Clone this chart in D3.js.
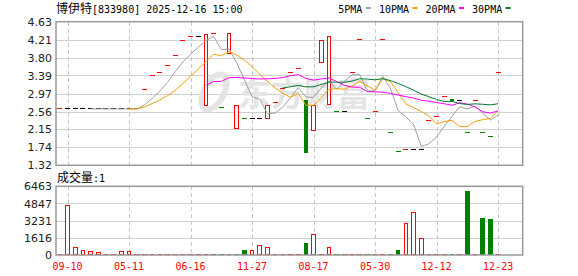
<!DOCTYPE html>
<html lang="zh">
<head>
<meta charset="UTF-8">
<title>博伊特 833980 日K</title>
<script src="https://cdn.jsdelivr.net/npm/d3@7/dist/d3.min.js"></script>
<style>
body{
	margin:0;
	background:#fff;
}
svg{
	display:block;
}
.frame{
	fill:none;
	stroke:#999;
	stroke-width:1.5px;
}
.hgrid line{
	stroke:#d0d0d0;
	stroke-width:1px;
	shape-rendering:crispEdges;
}
.vgrid line{
	stroke:#c8c8c8;
	stroke-width:1px;
	stroke-dasharray:4,3;
	shape-rendering:crispEdges;
}
.candle, .vol{
	shape-rendering:crispEdges;
}
.ma{
	fill:none;
	stroke-width:1px;
}
</style>
</head>
<body>
<script>
// 日K数据，一个下标一根K线
var opens  = [2.62,2.62,2.62,2.62,2.62,2.62,2.62,2.62,2.62,2.62,
              2.62,3.07,3.38,3.46,3.61,3.86,4.19,4.28,4.28,2.70,
              4.36,2.66,3.89,2.17,2.39,2.39,2.39,2.39,2.76,3.09,
              3.46,3.56,2.83,2.13,3.69,2.71,2.55,2.55,3.46,4.22,
              2.39,2.56,4.22,2.08,1.64,1.69,1.69,1.69,2.36,2.45,
              2.91,2.84,2.82,2.08,2.82,2.08,1.99,3.46];
var closes = [2.62,2.62,2.62,2.62,2.62,2.62,2.62,2.62,2.62,2.62,
              2.62,3.07,3.38,3.46,3.61,3.86,4.19,4.28,4.28,4.34,
              4.36,2.66,4.36,2.69,2.39,2.39,2.39,2.69,2.76,3.09,
              3.46,3.56,1.61,2.69,4.19,4.28,2.55,2.55,3.46,4.22,
              2.39,2.56,4.22,2.08,1.64,1.69,1.69,1.69,2.36,2.45,
              2.91,2.82,2.82,2.08,2.82,2.08,1.99,3.46];
var volumes = [15,4700,720,440,350,250,180,180,350,350,
               10,10,10,10,10,10,10,10,10,180,
               10,180,10,10,470,440,940,720,10,10,
               10,10,1130,1950,10,720,10,10,10,10,
               10,10,10,10,470,2980,4020,1570,10,10,
               10,10,10,6020,10,3480,3390,1];

var dateTicks  = [1,9,17,25,33,41,49,57];
var dateLabels = ["09-10","05-11","06-16","11-27","08-17","05-30","12-12","12-23"];
var priceTicks = [1.32,1.74,2.15,2.56,2.97,3.39,3.80,4.21,4.63];
var volTicks   = [0,1616,3231,4847,6463];

var maDays   = [5,10,20,30];
var maNames  = ["5PMA","10PMA","20PMA","30PMA"];
var maColors = ["#a0a0a0","#f5a000","#ff00ff","#007a30"];

var W=578, H=276;
var left=56, right=522.7;
var mainTop=21.7, mainBot=165.3, volTop=186.3, volBot=255;
var slots=61;
var red="#ff0000", green="#008000";

var svg=d3.select("body").append("svg").attr("width",W).attr("height",H);

var x=d3.scaleBand().domain(d3.range(slots)).range([left, left+slots*7.689]).padding(0);
var bw=x.bandwidth();
function cx(i){ return x(i)+bw/2; }

var y=d3.scaleLinear().domain([1.32,4.63]).range([mainBot,mainTop]);
var yv=d3.scaleLinear().domain([0,6463]).range([volBot,volTop]);

function dir(i){
	if(i==0) return 1;
	if(closes[i]>closes[i-1]) return 1;
	if(closes[i]<closes[i-1]) return -1;
	return 0;
}

// 网格
function grid(top,bot,ys){
	svg.append("g").attr("class","hgrid").selectAll("line").data(ys).enter().append("line")
		.attr("x1",left).attr("x2",right)
		.attr("y1",function(d){ return Math.round(d)+0.5; }).attr("y2",function(d){ return Math.round(d)+0.5; });
	svg.append("g").attr("class","vgrid").selectAll("line").data(dateTicks).enter().append("line")
		.attr("x1",function(d){ return Math.round(cx(d))+0.5; }).attr("x2",function(d){ return Math.round(cx(d))+0.5; })
		.attr("y1",top).attr("y2",bot);
}
grid(mainTop,mainBot,priceTicks.slice(1,-1).map(y));
grid(volTop,volBot,volTicks.slice(1,-1).map(yv));

// 水印
var wm=svg.append("g").attr("fill","none");
wm.append("ellipse").attr("cx",214).attr("cy",92).attr("rx",10).attr("ry",19)
	.attr("transform","rotate(28,214,92)").attr("stroke","#e4e4e4").attr("stroke-width",6);
wm.append("text").attr("x",238).attr("y",106).text("东方财富")
	.attr("fill","#e4e4e4").attr("font-family","Noto Sans CJK SC").attr("font-weight","bold").attr("font-size",33);

// K线
var cg=svg.append("g").attr("class","candle");
d3.range(closes.length).forEach(function(i){
	var o=opens[i], c=closes[i], xc=cx(i);
	if(o==c){
		var col=dir(i)>0?red:(dir(i)<0?green:"#000");
		cg.append("rect").attr("x",xc-2.5).attr("width",5)
			.attr("y",y(c)-0.5).attr("height",1).attr("fill",col);
	}else if(c>o){
		cg.append("rect").attr("x",xc-1.8).attr("width",3.6)
			.attr("y",y(c)).attr("height",y(o)-y(c))
			.attr("fill","#fff").attr("stroke",red).attr("stroke-width",1);
	}else{
		cg.append("rect").attr("x",xc-2.3).attr("width",4.6)
			.attr("y",y(o)).attr("height",Math.max(1.5,y(c)-y(o))).attr("fill",green);
	}
});

// 均线
maDays.forEach(function(n,k){
	var pts=[];
	for(var i=n-1;i<closes.length;i++){
		pts.push([cx(i), y(d3.mean(closes.slice(i-n+1,i+1)))]);
	}
	svg.append("path").attr("class","ma").attr("stroke",maColors[k]).attr("d",d3.line()(pts));
});

// 成交量
var vg=svg.append("g").attr("class","vol");
d3.range(volumes.length).forEach(function(i){
	var xc=cx(i), h=volBot-yv(volumes[i]);
	var up=dir(i)>=0;
	if(h<2){
		vg.append("rect").attr("x",xc-2.3).attr("width",4.6).attr("y",volBot-1.5).attr("height",1.5)
			.attr("fill",up?red:green);
	}else if(up){
		vg.append("rect").attr("x",xc-1.8).attr("width",3.6).attr("y",yv(volumes[i])).attr("height",h-0.5)
			.attr("fill","#fff").attr("stroke",red).attr("stroke-width",1);
	}else{
		vg.append("rect").attr("x",xc-2.3).attr("width",4.6).attr("y",yv(volumes[i])).attr("height",h)
			.attr("fill",green);
	}
});

// 边框
svg.append("rect").attr("class","frame").attr("x",left).attr("y",mainTop).attr("width",right-left).attr("height",mainBot-mainTop);
svg.append("rect").attr("class","frame").attr("x",left).attr("y",volTop).attr("width",right-left).attr("height",volBot-volTop);

// 坐标轴
function styleAxis(g,font,size,color){
	g.select(".domain").remove();
	g.selectAll("text").attr("font-family",font).attr("font-size",size).attr("fill",color);
}
svg.append("g").attr("transform","translate("+left+",0)")
	.call(d3.axisLeft(y).tickValues(priceTicks).tickSize(0).tickPadding(4).tickFormat(d3.format(".2f")))
	.call(styleAxis,"DejaVu Sans",11,"#222");
svg.append("g").attr("transform","translate("+left+",0)")
	.call(d3.axisLeft(yv).tickValues(volTicks).tickSize(0).tickPadding(4).tickFormat(d3.format("d")))
	.call(styleAxis,"DejaVu Sans",11,"#222");
svg.append("g").attr("transform","translate(0,"+volBot+")")
	.call(d3.axisBottom(x).tickValues(dateTicks).tickSize(0).tickPadding(7.5)
		.tickFormat(function(d){ return dateLabels[dateTicks.indexOf(d)]; }))
	.call(styleAxis,"DejaVu Sans Mono",10,red);

// 标题
var t=svg.append("text").attr("x",left).attr("y",13).attr("fill","#000");
t.append("tspan").attr("font-family","Noto Sans CJK SC").attr("font-size",12).text("博伊特");
t.append("tspan").attr("font-family","DejaVu Sans Mono").attr("font-size",10).text("[833980] 2025-12-16 15:00");

var vt=svg.append("text").attr("x",57).attr("y",182).attr("fill","#000");
vt.append("tspan").attr("font-family","Noto Sans CJK SC").attr("font-size",12).text("成交量");
vt.append("tspan").attr("font-family","DejaVu Sans Mono").attr("font-size",10).text(":"+volumes[volumes.length-1]);

// 图例
var lx=338.3;
maNames.forEach(function(name,k){
	svg.append("text").attr("x",lx).attr("y",12.5).attr("font-family","DejaVu Sans Mono").attr("font-size",10)
		.attr("fill","#000").text(name);
	lx+=name.length*6.02+3.5;
	svg.append("rect").attr("x",lx).attr("y",7).attr("width",5).attr("height",2).attr("fill",maColors[k]);
	lx+=5+8;
});
</script>
</body>
</html>
